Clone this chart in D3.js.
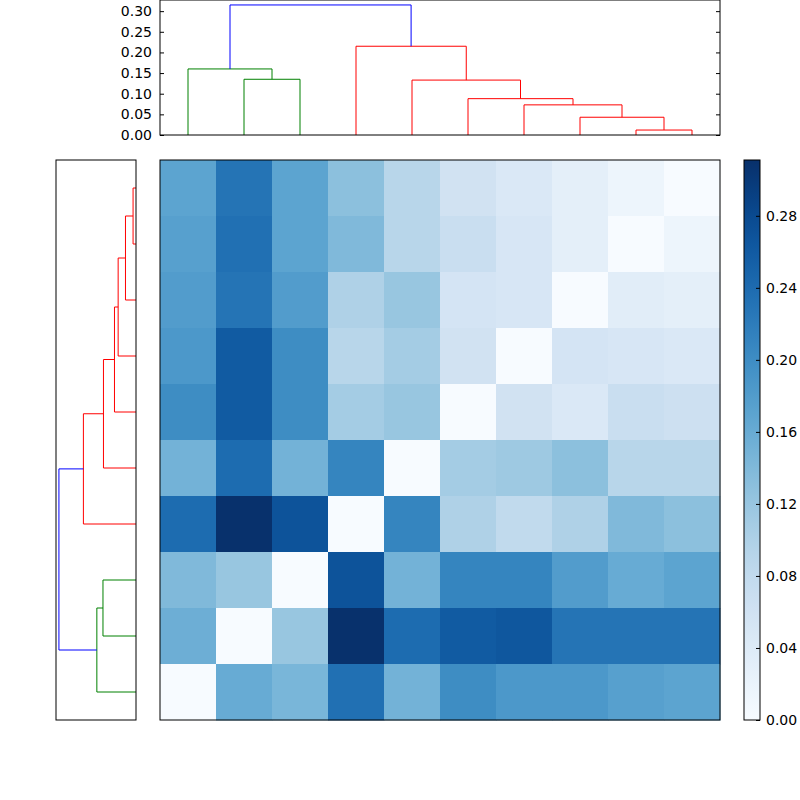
<!DOCTYPE html>
<html><head><meta charset="utf-8">
<script src="https://cdn.jsdelivr.net/npm/d3@7"></script>
<style>body{margin:0;background:#fff}text{font-family:"DejaVu Sans",sans-serif;font-size:14px}</style>
</head><body><svg id="c" width="800" height="800"></svg>
<script>
// heatmap rows, top to bottom; columns follow leaf order
var matrix = [
  [0.17, 0.23, 0.17, 0.13, 0.09, 0.06, 0.045, 0.03, 0.015, 0.0],
  [0.175, 0.235, 0.17, 0.14, 0.09, 0.07, 0.05, 0.03, 0.0, 0.015],
  [0.18, 0.23, 0.18, 0.10, 0.12, 0.055, 0.05, 0.0, 0.035, 0.03],
  [0.185, 0.26, 0.2, 0.09, 0.11, 0.06, 0.0, 0.055, 0.05, 0.045],
  [0.2, 0.26, 0.2, 0.11, 0.12, 0.0, 0.06, 0.045, 0.07, 0.065],
  [0.15, 0.24, 0.15, 0.21, 0.0, 0.11, 0.115, 0.13, 0.09, 0.09],
  [0.24, 0.31, 0.27, 0.0, 0.21, 0.1, 0.08, 0.1, 0.14, 0.13],
  [0.14, 0.12, 0.0, 0.27, 0.15, 0.21, 0.21, 0.18, 0.16, 0.17],
  [0.155, 0.0, 0.12, 0.31, 0.24, 0.26, 0.265, 0.23, 0.23, 0.23],
  [0.0, 0.16, 0.145, 0.235, 0.15, 0.2, 0.185, 0.185, 0.175, 0.17]
];
// dendrogram links: left pos, right pos (leaf units), left child h, right child h, merge h
var linkLeft   = [1, 0, 8, 7, 6, 5, 4, 3, 0.75];
var linkRight  = [2, 1.5, 9, 8.5, 7.75, 6.875, 5.9375, 4.96875, 3.984];
var linkLeftH  = [0, 0, 0, 0, 0, 0, 0, 0, 0.16];
var linkRightH = [0, 0.135, 0, 0.012, 0.043, 0.073, 0.088, 0.133, 0.215];
var linkH      = [0.135, 0.16, 0.012, 0.043, 0.073, 0.088, 0.133, 0.215, 0.315];
var linkColor  = ["green", "green", "red", "red", "red", "red", "red", "red", "blue"];
var distTicks = [0, 0.05, 0.1, 0.15, 0.2, 0.25, 0.3];
var cbarTicks = [0, 0.04, 0.08, 0.12, 0.16, 0.2, 0.24, 0.28];

var svg = d3.select("#c");
var hx = 160, hy = 160, hs = 560;
var leafX = d3.scaleLinear().domain([-0.5, 9.5]).range([hx, hx + hs]);
var leafY = d3.scaleLinear().domain([-0.5, 9.5]).range([hy + hs, hy]);
var color = d3.scaleSequential(d3.interpolateBlues).domain([0, 0.311]);

// heatmap
matrix.forEach(function(row, r) {
  row.forEach(function(v, c) {
    svg.append("rect").attr("x", hx + c * hs / 10).attr("y", hy + r * hs / 10)
      .attr("width", hs / 10 + 0.5).attr("height", hs / 10 + 0.5).attr("fill", color(v));
  });
});
svg.append("rect").attr("x", hx).attr("y", hy).attr("width", hs).attr("height", hs)
  .attr("fill", "none").attr("stroke", "#000");

// top dendrogram
var topY = d3.scaleLinear().domain([0, 0.327]).range([135, 0]);
var topG = svg.append("g");
linkH.forEach(function(h, i) {
  var pts = [[leafX(linkLeft[i]), topY(linkLeftH[i])], [leafX(linkLeft[i]), topY(h)],
             [leafX(linkRight[i]), topY(h)], [leafX(linkRight[i]), topY(linkRightH[i])]];
  topG.append("path").attr("d", d3.line()(pts)).attr("fill", "none").attr("stroke", linkColor[i]);
});
topG.append("rect").attr("x", hx).attr("y", 0).attr("width", hs).attr("height", 135)
  .attr("fill", "none").attr("stroke", "#000");
topG.append("g").attr("transform", "translate(" + hx + ",0)")
  .call(d3.axisLeft(topY).tickValues(distTicks).tickFormat(d3.format(".2f")).tickSizeInner(-4).tickPadding(8))
  .call(function(g) { g.select(".domain").remove(); g.selectAll("text").style("font-size", "14px").style("font-family", "DejaVu Sans"); });
topG.append("g").attr("transform", "translate(" + (hx + hs) + ",0)")
  .call(d3.axisRight(topY).tickValues(distTicks).tickFormat("").tickSizeInner(-4))
  .call(function(g) { g.select(".domain").remove(); });

// left dendrogram
var leftX = d3.scaleLinear().domain([0, 0.327]).range([136, 56]);
linkH.forEach(function(h, i) {
  var pts = [[leftX(linkLeftH[i]), leafY(linkLeft[i])], [leftX(h), leafY(linkLeft[i])],
             [leftX(h), leafY(linkRight[i])], [leftX(linkRightH[i]), leafY(linkRight[i])]];
  svg.append("path").attr("d", d3.line()(pts)).attr("fill", "none").attr("stroke", linkColor[i]);
});
svg.append("rect").attr("x", 56).attr("y", hy).attr("width", 80).attr("height", hs)
  .attr("fill", "none").attr("stroke", "#000");

// colorbar
var cbY = d3.scaleLinear().domain([0, 0.311]).range([hy + hs, hy]);
var grad = svg.append("defs").append("linearGradient").attr("id", "cb")
  .attr("x1", 0).attr("y1", 1).attr("x2", 0).attr("y2", 0);
d3.range(0, 1.001, 0.05).forEach(function(t) {
  grad.append("stop").attr("offset", t).attr("stop-color", d3.interpolateBlues(t));
});
svg.append("rect").attr("x", 744).attr("y", hy).attr("width", 16).attr("height", hs)
  .attr("fill", "url(#cb)").attr("stroke", "#000");
svg.append("g").attr("transform", "translate(760,0)")
  .call(d3.axisRight(cbY).tickValues(cbarTicks).tickFormat(d3.format(".2f")).tickSizeInner(-4).tickPadding(6))
  .call(function(g) { g.select(".domain").remove(); g.selectAll("text").style("font-size", "14px").style("font-family", "DejaVu Sans"); });
</script></body></html>
